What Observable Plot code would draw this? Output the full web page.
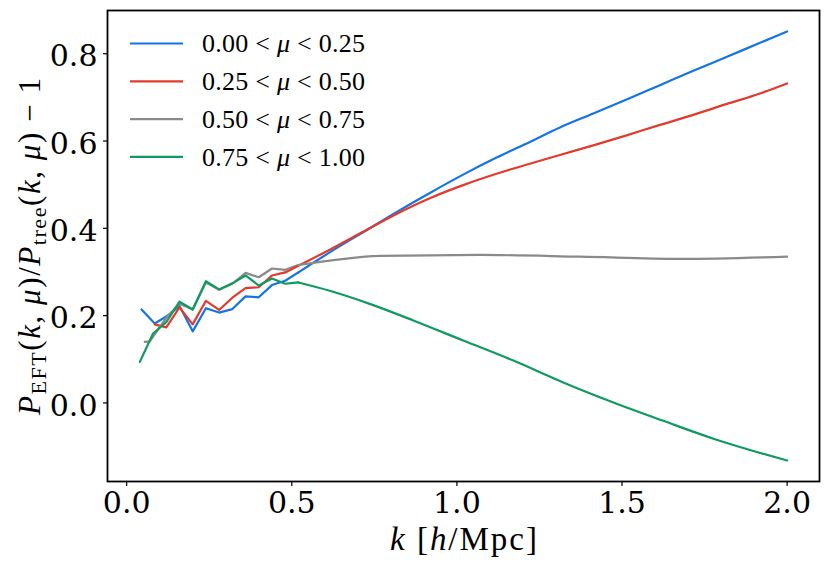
<!DOCTYPE html>
<html><head><meta charset="utf-8">
<script src="https://cdn.jsdelivr.net/npm/d3@7"></script>
<script src="https://cdn.jsdelivr.net/npm/@observablehq/plot@0.6"></script>
<style>
body{margin:0;background:#fff}
#chart{position:relative;width:830px;height:569px}
</style>
</head><body><div id="chart"></div>
<script>
// Series labels (mu bins) and colours
const binLo = ["0.00", "0.25", "0.50", "0.75"];
const binHi = ["0.25", "0.50", "0.75", "1.00"];
const colors = ["#1474e6", "#e23b2d", "#8a8a8a", "#0f9a60"];

// 0.00 < mu < 0.25
const kBlue = [0.045,0.085,0.12,0.16,0.20,0.24,0.28,0.32,0.36,0.40,0.44,0.48,0.52,0.615,0.716,0.817,0.918,1.019,1.12,1.221,1.312,1.413,1.514,1.615,1.716,1.818,1.918,2.0];
const vBlue = [0.214,0.182,0.198,0.222,0.164,0.217,0.207,0.215,0.244,0.242,0.270,0.280,0.299,0.345,0.391,0.437,0.481,0.523,0.562,0.598,0.631,0.663,0.695,0.728,0.761,0.793,0.825,0.851];
// 0.25 < mu < 0.50
const kRed = [0.085,0.12,0.16,0.20,0.24,0.28,0.32,0.36,0.40,0.44,0.48,0.615,0.716,0.817,0.918,1.019,1.12,1.221,1.312,1.413,1.514,1.615,1.716,1.818,1.918,2.0];
const vRed = [0.180,0.173,0.219,0.180,0.234,0.213,0.241,0.263,0.265,0.292,0.299,0.351,0.392,0.433,0.469,0.499,0.525,0.548,0.568,0.590,0.613,0.637,0.660,0.685,0.709,0.732];
// 0.50 < mu < 0.75
const kGray = [0.055,0.07,0.12,0.16,0.20,0.24,0.28,0.32,0.36,0.40,0.44,0.48,0.52,0.615,0.767,1.07,1.373,1.676,2.0];
const vGray = [0.140,0.141,0.195,0.227,0.214,0.276,0.259,0.273,0.298,0.288,0.308,0.305,0.316,0.326,0.337,0.339,0.335,0.330,0.335];
// 0.75 < mu < 1.00
const kGreen = [0.04,0.08,0.12,0.16,0.20,0.24,0.28,0.32,0.36,0.40,0.44,0.48,0.52,0.615,0.736,0.868,1.019,1.171,1.322,1.474,1.625,1.777,2.0];
const vGreen = [0.094,0.159,0.185,0.232,0.214,0.279,0.260,0.274,0.292,0.269,0.285,0.273,0.276,0.257,0.227,0.189,0.143,0.097,0.047,0.001,-0.041,-0.082,-0.132];
// index where the noisy low-k part ends and the smooth part begins
const splitIdx = [12, 10, 12, 12];

const xTicks = [0.0, 0.5, 1.0, 1.5, 2.0];
const yTicks = [0.0, 0.2, 0.4, 0.6, 0.8];

const seriesK = [kBlue, kRed, kGray, kGreen];
const seriesV = [vBlue, vRed, vGray, vGreen];
const names = binLo.map((lo, i) => `${lo} < μ < ${binHi[i]}`);
const noisy = [], smooth = [];
seriesK.forEach((ks, i) => ks.forEach((k, j) => {
  const row = {k, v: seriesV[i][j], series: names[i]};
  if (j <= splitIdx[i]) noisy.push(row);
  if (j >= splitIdx[i]) smooth.push(row);
}));

const fmt = d3.format(".1f");
const plot = Plot.plot({
  width: 830, height: 569,
  marginLeft: 107, marginRight: 11, marginTop: 10, marginBottom: 88,
  x: {domain: [-0.058, 2.098]},
  y: {domain: [-0.180, 0.899]},
  color: {domain: names, range: colors},
  style: {fontFamily: "DejaVu Serif", background: "white", color: "black"},
  marks: [
    Plot.axisX({ticks: xTicks, tickFormat: fmt, tickSize: 5, tickPadding: 5, fontSize: 30, label: null, stroke: "black", strokeWidth: 1.2}),
    Plot.axisY({ticks: yTicks, tickFormat: fmt, tickSize: 4, tickPadding: 6, fontSize: 30, label: null, stroke: "black", strokeWidth: 1.2}),
    Plot.line(noisy, {x: "k", y: "v", z: "series", stroke: "series", strokeWidth: 2.2}),
    Plot.line(smooth, {x: "k", y: "v", z: "series", stroke: "series", strokeWidth: 2.2, curve: "monotone-x"}),
    Plot.frame({stroke: "black", strokeWidth: 1.8})
  ]
});
document.getElementById("chart").appendChild(plot);

const svg = d3.select(plot);
// matplotlib places y tick labels slightly below the tick centre
svg.selectAll('g[aria-label="y-axis tick label"]').attr("transform", function() {
  const t = this.getAttribute("transform") || "";
  return t + " translate(0,3)";
});
const mathFont = "Liberation Serif";

// Legend
const leg = svg.append("g").attr("font-family", mathFont).attr("font-size", 26).attr("text-anchor", "start");
names.forEach((n, i) => {
  const y = 43.5 + i * 37.8;
  leg.append("line").attr("x1", 130).attr("x2", 183).attr("y1", y).attr("y2", y)
    .attr("stroke", colors[i]).attr("stroke-width", 2.2);
  const t = leg.append("text").attr("x", 202).attr("y", y).attr("dy", "0.34em")
    .attr("textLength", 163).attr("lengthAdjust", "spacing");
  t.append("tspan").text(binLo[i] + " < ");
  t.append("tspan").attr("font-style", "italic").text("μ");
  t.append("tspan").text(" < " + binHi[i]);
});

// X label
const xl = svg.append("text").attr("x", 390).attr("y", 550).attr("text-anchor", "start")
  .attr("font-family", mathFont).attr("font-size", 33)
  .attr("textLength", 147).attr("lengthAdjust", "spacing");
xl.append("tspan").attr("font-style", "italic").text("k");
xl.append("tspan").text(" [");
xl.append("tspan").attr("font-style", "italic").text("h");
xl.append("tspan").text("/Mpc]");

// Y label
const yl = svg.append("text").attr("transform", "translate(40,415) rotate(-90)")
  .attr("x", 0).attr("y", 0)
  .attr("text-anchor", "start").attr("font-family", mathFont).attr("font-size", 31)
  .attr("textLength", 337).attr("lengthAdjust", "spacing");
function part(sel, txt, it, sub) {
  const s = sel.append("tspan").text(txt);
  if (it) s.attr("font-style", "italic");
  if (sub) s.attr("font-size", 22).attr("dy", 6);
  return s;
}
part(yl, "P", true);
part(yl, "EFT", false, true);
yl.append("tspan").attr("dy", -6).text("(");
part(yl, "k", true); yl.append("tspan").text(", "); part(yl, "μ", true); yl.append("tspan").text(")/");
part(yl, "P", true);
part(yl, "tree", false, true);
yl.append("tspan").attr("dy", -6).text("(");
part(yl, "k", true); yl.append("tspan").text(", "); part(yl, "μ", true); yl.append("tspan").text(") − 1");
</script>
</body></html>
